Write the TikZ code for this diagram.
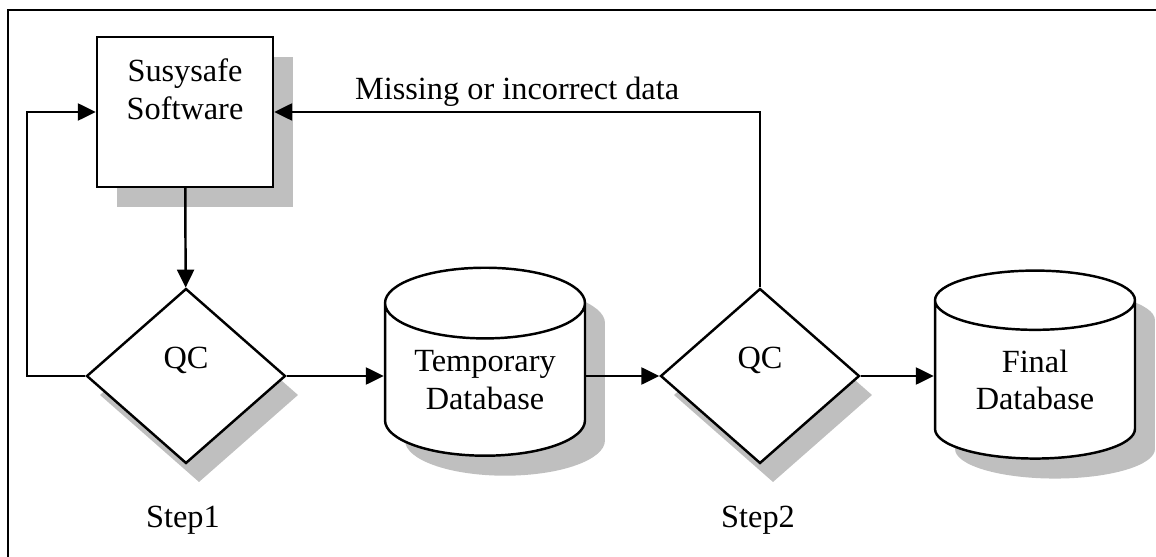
\documentclass[tikz,border=0pt]{standalone}
\usepackage{fontspec}
\setmainfont{Liberation Serif}
\usetikzlibrary{arrows.meta,shapes.geometric,shadows}

\begin{document}
\begin{tikzpicture}[x=0.02cm, y=-0.02cm, line width=1.4pt,
	every node/.style={font=\fontsize{18.4}{21.5}\selectfont},
	swbox/.style={draw, fill=white, rectangle, inner sep=0pt, minimum width=35.2mm, minimum height=30mm,
		drop shadow={shadow xshift=4mm, shadow yshift=-4mm, fill=black!25, opacity=1}},
	qcbox/.style={draw, fill=white, diamond, inner sep=0pt, minimum width=39.8mm, minimum height=35mm,
		drop shadow={shadow xshift=2.6mm, shadow yshift=-3.8mm, fill=black!25, opacity=1}},
	dbbox/.style={draw, fill=white, cylinder, shape border rotate=90, aspect=0.5, inner sep=0pt,
		minimum width=40mm, minimum height=37.6mm, align=center,
		drop shadow={shadow xshift=4mm, shadow yshift=-4mm, fill=black!25, opacity=1}},
	arr/.style={-{Triangle[length=3.6mm, width=3.4mm]}}]
			\useasboundingbox (0,0) rectangle (1156,557);
			\clip (0,0) rectangle (1156,557);
			\draw[line width=1.7pt] (8,10) rectangle (1200,600);
			% shapes
			\node[swbox] (sw) at (185,112) {};
			\node[anchor=north, align=center, inner sep=0pt] (swtext) at (185,58) {Susysafe\\Software};
			\node[qcbox, label={[yshift=3.2mm]center:QC}] (qc1) at (186,376) {};
			\node[dbbox] (tmpdb) at (485,380) {Temporary\\Database};
			\node[qcbox, label={[yshift=3.2mm]center:QC}] (qc2) at (760,376) {};
			\node[dbbox] (findb) at (1035,380) {Final\\Database};
			\node[anchor=base] (step1) at (183,527) {Step1};
			\node[anchor=base] (step2) at (758,527) {Step2};
			\coordinate (back) at (27,112);
			% connectors
			\draw[arr] (sw) -- (qc1);
			\draw[arr] (qc1.west) -| (back) -- (sw.west);
			\draw[arr] (qc1.east) -- (qc1.east -| tmpdb.west);
			\draw[arr] (tmpdb.east |- qc2.west) -- (qc2.west);
			\draw[arr] (qc2.east) -- (qc2.east -| findb.west);
			\draw[arr] (qc2.north) |- (sw.east) node[pos=0.75, above, inner sep=2.5pt] (misslbl) {Missing or incorrect data};
\end{tikzpicture}
\end{document}
